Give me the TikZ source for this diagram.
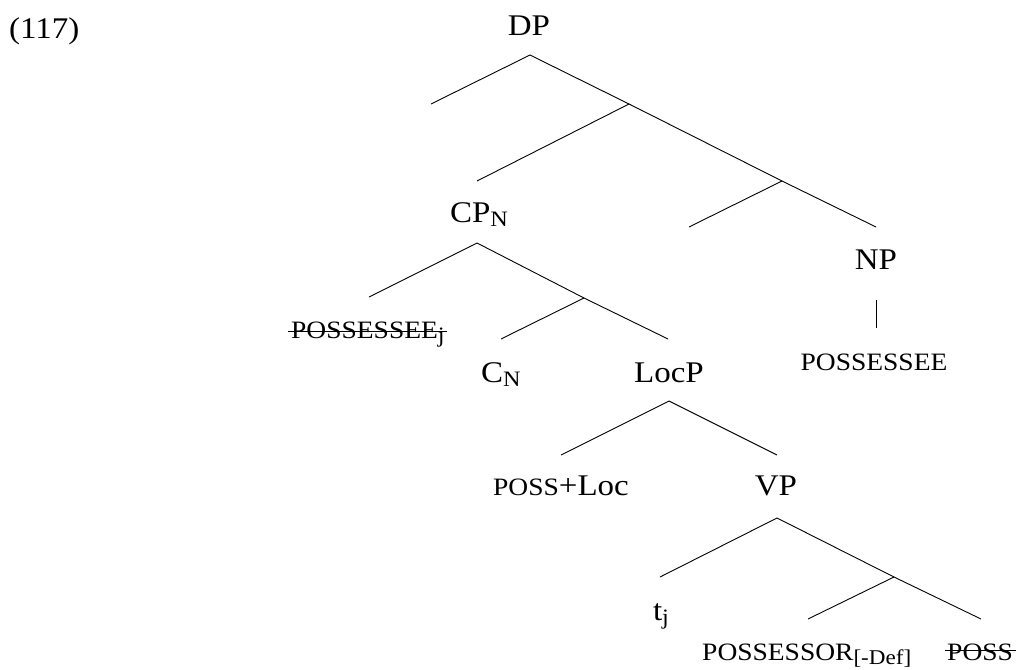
\documentclass[tikz,border=0pt]{standalone}
\usepackage{fontspec}
\setmainfont{Liberation Serif}[FakeStretch=1.1]
\newcommand\subx[1]{\raisebox{-4pt}{\fontsize{22}{24}\selectfont #1}}
\newcommand\subd[1]{\raisebox{-4.5pt}{\fontsize{21}{24}\selectfont #1}}
\newcommand\smc[1]{{\fontsize{25}{30}\selectfont #1}}
\begin{document}
\begin{tikzpicture}[x=1pt,y=-1pt,
  lbl/.style={inner sep=0pt, anchor=base, font=\fontsize{30}{34}\selectfont},
  br/.style={line width=0.9pt}]
\useasboundingbox (0,0) rectangle (1016,669);
% labels
\node[lbl, anchor=base west] (ex) at (9,38) {(117)};
\node[lbl] (dp) at (529,36) {DP};
\node[lbl] (cp) at (479,222) {CP\subx{N}};
\node[lbl] (np) at (876,269) {NP};
\node[lbl] (possessee) at (874,370) {\smc{POSSESSEE}};
\node[lbl, anchor=base west] (trace1) at (291,338) {\smc{POSSESSEE}\subx{j}};
\node[lbl, anchor=base west] (cn) at (481,382) {C\subx{N}};
\node[lbl] (locp) at (669,382) {LocP};
\node[lbl, anchor=base west] (possloc) at (493,495) {\smc{POSS}+Loc};
\node[lbl] (vp) at (776,495) {VP};
\node[lbl] (tj) at (661,620) {t\subx{j}};
\node[lbl, anchor=base west] (possor) at (702,660) {\smc{POSSESSOR}\subd{[-Def]}};
\node[lbl, anchor=base west] (poss) at (947,660) {\smc{POSS}};
% strike-throughs
\draw[br] ([xshift=-3pt,yshift=6.5pt]trace1.base west) -- ([xshift=2pt,yshift=6.5pt]trace1.base east);
\draw[br] ([xshift=-2pt,yshift=10pt]poss.base west) -- ([xshift=3pt,yshift=10pt]poss.base east);
% tree coordinates
\coordinate (dpA) at (530,55);
\coordinate (e1) at (431,104);
\coordinate (j1) at (629,104);
\coordinate (cpE) at (477,181);
\coordinate (j2) at (782,181);
\coordinate (e2) at (689,227);
\coordinate (npE) at (876,227);
\coordinate (cpA) at (477,243);
\coordinate (pE) at (369,297);
\coordinate (j3) at (584,298);
\coordinate (cnE) at (501,339);
\coordinate (locE) at (668,339);
\coordinate (locA) at (669,401);
\coordinate (plE) at (561,455);
\coordinate (vpE) at (777,455);
\coordinate (vpA) at (777,518);
\coordinate (tE) at (660,577);
\coordinate (j4) at (894,577);
\coordinate (posE) at (808,619);
\coordinate (possE) at (981,619);
\coordinate (npT) at (876,300);
\coordinate (npB) at (876,328);
% branches
\draw[br] (e1) -- (dpA) -- (j1) -- (j2) -- (npE);
\draw[br] (j1) -- (cpE);
\draw[br] (j2) -- (e2);
\draw[br] (pE) -- (cpA) -- (j3) -- (locE);
\draw[br] (j3) -- (cnE);
\draw[br] (plE) -- (locA) -- (vpE);
\draw[br] (tE) -- (vpA) -- (j4) -- (possE);
\draw[br] (j4) -- (posE);
\draw[br] (npT) -- (npB);
\end{tikzpicture}
\end{document}
